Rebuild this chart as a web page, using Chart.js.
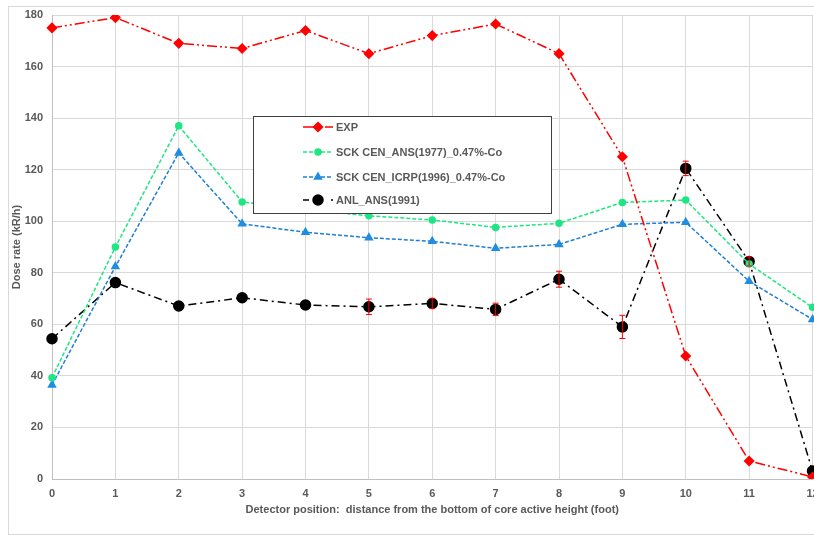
<!DOCTYPE html>
<html>
<head>
<meta charset="utf-8">
<script src="https://cdn.jsdelivr.net/npm/chart.js@4/dist/chart.umd.min.js"></script>
<style>
  html, body { margin: 0; padding: 0; background: #fff; overflow: hidden; }
  #wrap { width: 814px; height: 537px; overflow: hidden; }
</style>
</head>
<body>
<div id="wrap"><canvas id="doseChart" width="819" height="537"></canvas></div>
<script>
  'use strict';

  // detector positions (foot)
  var positions = ['0', '1', '2', '3', '4', '5', '6', '7', '8', '9', '10', '11', '12'];
  var yTicks = [0, 20, 40, 60, 80, 100, 120, 140, 160, 180];

  var exp_data = [175, 179, 169, 167, 174, 165, 172, 176.5, 165, 125, 47.7, 7, 0.8];
  var sck_ans = [39.3, 90, 137, 107.5, 104.5, 102.1, 100.5, 97.6, 99.2, 107.3, 108.2, 83.4, 66.6];
  var sck_icrp = [36.5, 82.4, 126.5, 99, 95.7, 93.6, 92.2, 89.5, 91, 98.8, 99.6, 76.7, 61.9];
  var anl_ans = [54.4, 76.2, 67.1, 70.3, 67.5, 66.8, 68.1, 65.8, 77.5, 59, 120.5, 84.4, 3.1];
  var anl_err = [0, 0, 0, 0, 0, 3, 2, 2.4, 3.1, 4.5, 2.8, 1.8, 0];

  var textColor = '#595959';
  var gridColor = '#d9d9d9';

  // outer frame of the picture
  var framePlugin = {
    id: 'frame',
    beforeDraw: function (chart) {
      var ctx = chart.ctx;
      ctx.save();
      ctx.fillStyle = '#fff';
      ctx.fillRect(0, 0, chart.width, chart.height);
      ctx.strokeStyle = gridColor;
      ctx.lineWidth = 1;
      ctx.strokeRect(8.5, 6.5, chart.width, 528);
      ctx.restore();
    }
  };

  // red error bars on ANL_ANS(1991)
  var errorBarPlugin = {
    id: 'errorBars',
    afterDatasetsDraw: function (chart) {
      var ctx = chart.ctx;
      var xs = chart.scales.x, ys = chart.scales.y;
      ctx.save();
      ctx.strokeStyle = '#ff0000';
      ctx.lineWidth = 1;
      ctx.setLineDash([]);
      for (var i = 0; i < anl_ans.length; i++) {
        if (!anl_err[i]) continue;
        var px = xs.getPixelForValue(i);
        var top = ys.getPixelForValue(anl_ans[i] + anl_err[i]);
        var bot = ys.getPixelForValue(anl_ans[i] - anl_err[i]);
        ctx.beginPath();
        ctx.moveTo(px, top); ctx.lineTo(px, bot);
        ctx.moveTo(px - 3, top); ctx.lineTo(px + 3, top);
        ctx.moveTo(px - 3, bot); ctx.lineTo(px + 3, bot);
        ctx.stroke();
      }
      ctx.restore();
    }
  };

  // legend box inside the plot
  var legendPlugin = {
    id: 'boxLegend',
    afterDraw: function (chart) {
      var ctx = chart.ctx;
      var bx = 253.5, by = 116.5, bw = 298, bh = 97;
      ctx.save();
      ctx.fillStyle = '#fff';
      ctx.fillRect(bx, by, bw, bh);
      ctx.strokeStyle = '#404040';
      ctx.lineWidth = 1;
      ctx.setLineDash([]);
      ctx.strokeRect(bx, by, bw, bh);
      var rows = [127, 152, 177, 200];
      chart.data.datasets.forEach(function (ds, i) {
        var y = rows[i];
        ctx.save();
        ctx.strokeStyle = ds.borderColor;
        ctx.lineWidth = ds.borderWidth;
        ctx.setLineDash(ds.legendDash);
        ctx.beginPath();
        ctx.moveTo(303, y); ctx.lineTo(333, y);
        ctx.stroke();
        ctx.setLineDash([]);
        ctx.fillStyle = ds.pointBackgroundColor;
        ctx.strokeStyle = ds.pointBorderColor;
        Chart.helpers.drawPoint(ctx, {
          pointStyle: ds.pointStyle,
          radius: ds.pointRadius,
          rotation: 0,
          borderWidth: 1
        }, 318, y);
        ctx.restore();
        ctx.fillStyle = textColor;
        ctx.font = 'bold 11px "Liberation Sans", Arial, sans-serif';
        ctx.textBaseline = 'middle';
        ctx.textAlign = 'left';
        ctx.fillText(ds.label, 336, y + 1);
      });
      ctx.restore();
    }
  };

  var ctx = document.getElementById('doseChart').getContext('2d');
  var doseChart = new Chart(ctx, {
    type: 'line',
    data: {
      labels: positions,
      datasets: [{
        label: 'EXP',
        data: exp_data,
        borderColor: '#ff0000',
        borderWidth: 1.5,
        borderDash: [10, 3, 2, 3, 2, 3],
        legendDash: [12, 4, 2, 4],
        pointStyle: 'rectRot',
        pointRadius: 4.5,
        pointBackgroundColor: '#ff0000',
        pointBorderColor: '#ff0000'
      }, {
        label: 'SCK CEN_ANS(1977)_0.47%-Co',
        data: sck_ans,
        borderColor: '#1ee682',
        borderWidth: 1.5,
        borderDash: [4, 2],
        legendDash: [4, 2],
        pointStyle: 'circle',
        pointRadius: 3,
        pointBackgroundColor: '#1ee682',
        pointBorderColor: '#1ee682'
      }, {
        label: 'SCK CEN_ICRP(1996)_0.47%-Co',
        data: sck_icrp,
        borderColor: '#1f7fd4',
        borderWidth: 1.5,
        borderDash: [4, 2],
        legendDash: [4, 2],
        pointStyle: 'triangle',
        pointRadius: 4,
        pointBackgroundColor: '#1f8ee0',
        pointBorderColor: '#1f8ee0'
      }, {
        label: 'ANL_ANS(1991)',
        data: anl_ans,
        borderColor: '#000000',
        borderWidth: 1.5,
        borderDash: [8, 4, 2, 4],
        legendDash: [6, 8],
        pointStyle: 'circle',
        pointRadius: 5,
        pointBackgroundColor: '#000000',
        pointBorderColor: '#000000'
      }]
    },
    options: {
      responsive: false,
      animation: false,
      layout: { padding: { left: 0, right: 0, top: 15, bottom: 20 } },
      plugins: {
        legend: { display: false },
        tooltip: { enabled: false }
      },
      scales: {
        x: {
          offset: false,
          grid: { color: gridColor, offset: false, drawTicks: false },
          border: { color: '#bfbfbf' },
          ticks: {
            color: textColor,
            padding: 8,
            maxRotation: 0,
            autoSkip: false,
            font: { family: '"Liberation Sans", Arial, sans-serif', size: 11, weight: 'bold' }
          },
          title: {
            display: true,
            text: 'Detector position:  distance from the bottom of core active height (foot)',
            color: textColor,
            padding: { top: 2, bottom: 0 },
            font: { family: '"Liberation Sans", Arial, sans-serif', size: 11, weight: 'bold' }
          },
          afterFit: function (scale) {
            scale.height = 38;
            scale.paddingLeft = 0;
            scale.paddingRight = 0;
          }
        },
        y: {
          min: 0,
          max: 180,
          grid: { color: gridColor, drawTicks: false },
          border: { color: '#bfbfbf' },
          afterBuildTicks: function (scale) {
            scale.ticks = yTicks.map(function (v) { return { value: v }; });
          },
          ticks: {
            color: textColor,
            padding: 9,
            font: { family: '"Liberation Sans", Arial, sans-serif', size: 11, weight: 'bold' }
          },
          title: {
            display: true,
            text: 'Dose rate (kR/h)',
            color: textColor,
            padding: { top: 10, bottom: 0 },
            font: { family: '"Liberation Sans", Arial, sans-serif', size: 11, weight: 'bold' }
          },
          afterFit: function (scale) {
            scale.width = 52;
            scale.paddingTop = 0;
            scale.paddingBottom = 0;
          }
        }
      }
    },
    plugins: [framePlugin, errorBarPlugin, legendPlugin]
  });
</script>
</body>
</html>
